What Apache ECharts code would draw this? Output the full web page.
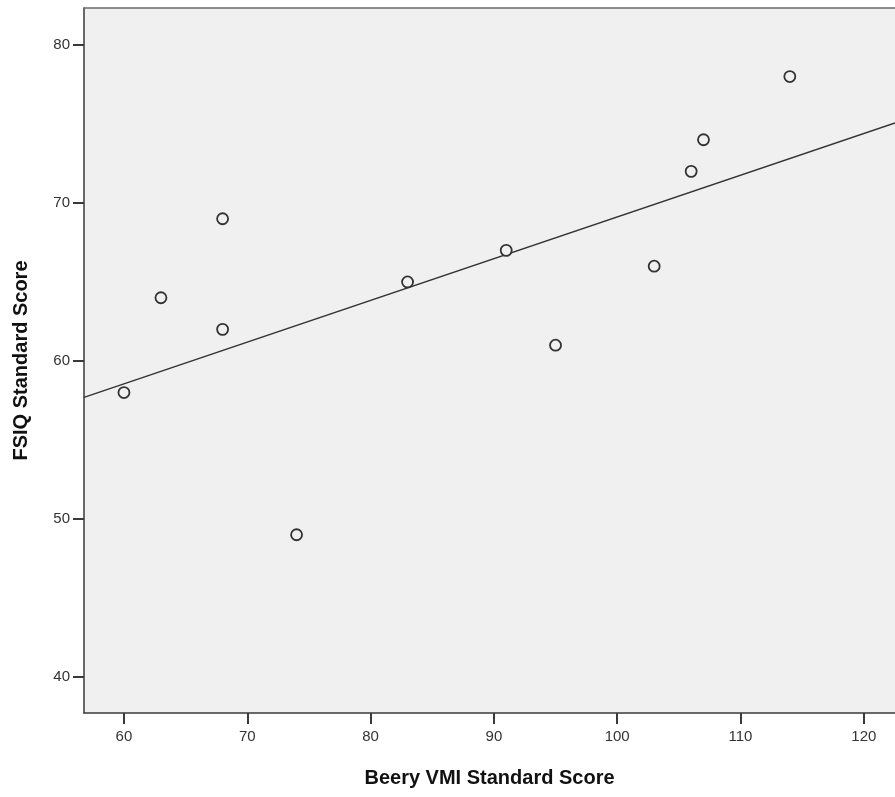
<!DOCTYPE html>
<html>
<head>
	<meta charset="UTF-8">
	<title>Beery VMI vs FSIQ</title>
	<script type="text/javascript" src="https://cdn.jsdelivr.net/npm/echarts@6/dist/echarts.min.js"></script>
	<style type="text/css">
		html, body { margin: 0; padding: 0; background: #ffffff; overflow: hidden; }
		#chart { width: 895px; height: 797px; }
	</style>
</head>
<body>
	<div id="chart"></div>
	<script>
		// data
		var beeryVMI = [60, 63, 68, 68, 74, 83, 91, 95, 103, 106, 107, 114];
		var fsiq = [58, 64, 69, 62, 49, 65, 67, 61, 66, 72, 74, 78];
		var xTicks = [60, 70, 80, 90, 100, 110, 120];
		var yTicks = [40, 50, 60, 70, 80];
		var xRange = [56.76, 122.53];
		var yRange = [37.72, 82.34];

		var points = [];
		for (var i = 0; i < beeryVMI.length; i++) {
			points.push([beeryVMI[i], fsiq[i]]);
		}

		// least squares fit line
		var n = beeryVMI.length, sx = 0, sy = 0;
		for (var i = 0; i < n; i++) { sx += beeryVMI[i]; sy += fsiq[i]; }
		var mx = sx / n, my = sy / n, sxy = 0, sxx = 0;
		for (var i = 0; i < n; i++) {
			sxy += (beeryVMI[i] - mx) * (fsiq[i] - my);
			sxx += (beeryVMI[i] - mx) * (beeryVMI[i] - mx);
		}
		var slope = sxy / sxx, icpt = my - slope * mx;
		var fitLine = [[xRange[0], icpt + slope * xRange[0]], [xRange[1], icpt + slope * xRange[1]]];

		var chart = echarts.init(document.getElementById('chart'), null, { renderer: 'canvas' });
		var axisStyle = {
			axisLine: { show: true, lineStyle: { color: '#3a3a3a', width: 1.5 } },
			axisTick: { show: true, length: 11, lineStyle: { color: '#3a3a3a', width: 2 } },
			splitLine: { show: false },
			nameTextStyle: { fontFamily: 'Liberation Sans', fontWeight: 'bold', fontSize: 20, color: '#111' }
		};
		chart.setOption({
			animation: false,
			grid: {
				left: 84, right: 0, top: 8, bottom: 84,
				show: true, backgroundColor: '#f0f0f0', borderWidth: 0
			},
			xAxis: [
				Object.assign({}, axisStyle, {
					type: 'value', min: xRange[0], max: xRange[1],
					name: 'Beery VMI Standard Score', nameLocation: 'middle', nameGap: 55,
					axisTick: Object.assign({}, axisStyle.axisTick, { customValues: xTicks }),
					axisLabel: { customValues: xTicks, margin: 16, fontSize: 15, color: '#333', fontFamily: 'Liberation Sans' }
				}),
				{
					// top frame line only
					type: 'value', position: 'top', min: xRange[0], max: xRange[1],
					axisLine: { show: true, lineStyle: { color: '#6a6a6a', width: 1.5 } },
					axisTick: { show: false }, axisLabel: { show: false }, splitLine: { show: false }
				}
			],
			yAxis: Object.assign({}, axisStyle, {
				type: 'value', min: yRange[0], max: yRange[1],
				name: 'FSIQ Standard Score', nameLocation: 'middle', nameGap: 53,
				axisTick: Object.assign({}, axisStyle.axisTick, { customValues: yTicks }),
				axisLabel: { customValues: yTicks, margin: 14, fontSize: 15, color: '#333', fontFamily: 'Liberation Sans' }
			}),
			series: [
				{
					type: 'line', data: fitLine, symbol: 'none', silent: true,
					lineStyle: { color: '#333', width: 1.5 }, z: 2
				},
				{
					type: 'scatter', data: points, symbol: 'circle', symbolSize: 11,
					itemStyle: { color: '#f0f0f0', borderColor: '#333', borderWidth: 1.8, opacity: 1 }, z: 3
				}
			]
		});
	</script>
</body>
</html>
